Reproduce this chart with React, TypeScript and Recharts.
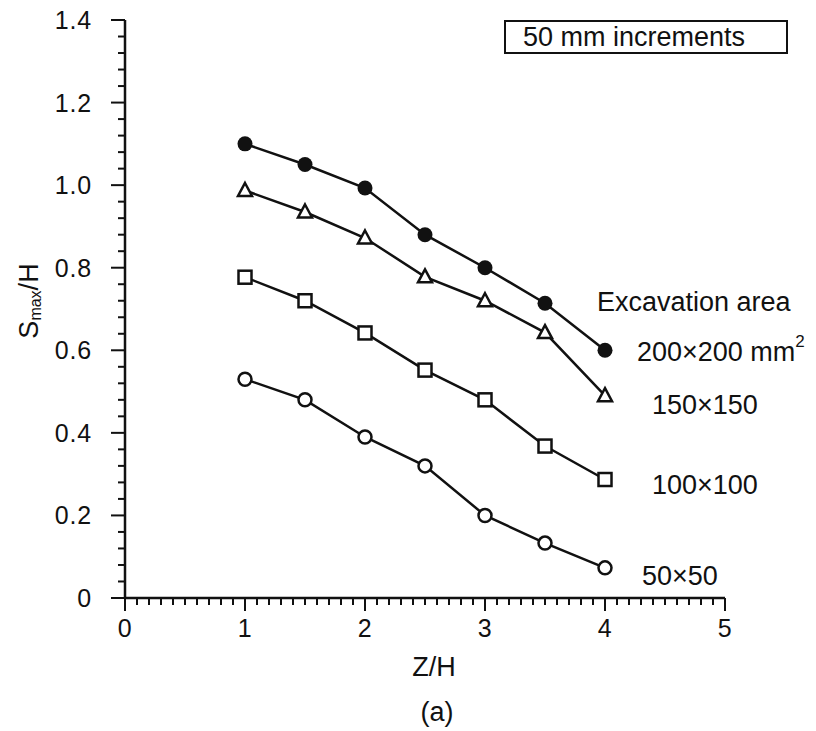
import { LineChart, Line, XAxis, YAxis } from 'recharts'

const zOverH = [1, 1.5, 2, 2.5, 3, 3.5, 4]
const area200 = [1.1, 1.05, 0.993, 0.88, 0.8, 0.714, 0.6]
const area150 = [0.987, 0.935, 0.872, 0.778, 0.72, 0.643, 0.49]
const area100 = [0.777, 0.72, 0.642, 0.552, 0.48, 0.368, 0.287]
const area50 = [0.53, 0.48, 0.39, 0.32, 0.2, 0.133, 0.073]

// every 0.1 on x, every 0.04 on y; labels only at the major ones
const xTicks = Array.from({length: 51}, (_, i) => i / 10)
const yTicks = Array.from({length: 36}, (_, i) => i * 0.04)
const xMajorStep = 1
const yMajorStep = 0.2

const data = zOverH.map((z, i) => ({
  z,
  a200: area200[i],
  a150: area150[i],
  a100: area100[i],
  a50: area50[i],
}))

const font = '"Liberation Sans", Arial, sans-serif'
const ink = '#111'

const isMajor = (v: number, step: number) => Math.abs(v / step - Math.round(v / step)) < 1e-6

function XTick({x, y, payload}: any) {
  const major = isMajor(payload.value, xMajorStep)
  return (
    <g>
      <line x1={x} y1={y} x2={x} y2={y + (major ? 13 : 7)} stroke={ink} strokeWidth={2} />
      {major && (
        <text x={x} y={y + 30} textAnchor="middle" dominantBaseline="central" fontSize={25}
          fontFamily={font} fill={ink} letterSpacing={0.8}>
          {Math.round(payload.value)}
        </text>
      )}
    </g>
  )
}

function YTick({x, y, payload}: any) {
  const v = payload.value
  const major = isMajor(v, yMajorStep)
  return (
    <g>
      <line x1={x} y1={y} x2={x - (major ? 14 : 7)} y2={y} stroke={ink} strokeWidth={2} />
      {major && (
        <text x={x - 33} y={y} textAnchor="end" dominantBaseline="central" fontSize={25}
          fontFamily={font} fill={ink} letterSpacing={0.8}>
          {v < 1e-9 ? '0' : v.toFixed(1)}
        </text>
      )}
    </g>
  )
}

const FilledCircle = (p: any) => <circle key={p.index} cx={p.cx} cy={p.cy} r={7.5} fill={ink} />
const OpenCircle = (p: any) => <circle key={p.index} cx={p.cx} cy={p.cy} r={6.5} fill="#fff" stroke={ink} strokeWidth={2.5} />
const Square = (p: any) => <rect key={p.index} x={p.cx - 6.5} y={p.cy - 6.5} width={13} height={13} fill="#fff" stroke={ink} strokeWidth={2.5} />
const Triangle = (p: any) => (
  <path key={p.index} d={`M${p.cx},${p.cy - 7.5} L${p.cx + 7},${p.cy + 5.5} L${p.cx - 7},${p.cy + 5.5} Z`}
    fill="#fff" stroke={ink} strokeWidth={2.5} strokeLinejoin="miter" />
)

export default function App() {
  return (
    <div style={{position: 'relative', width: 816, height: 731, margin: '-8px 0 0 -8px', fontFamily: font}}>
      <LineChart width={816} height={731} data={data} margin={{top: 20, right: 91, bottom: 93, left: 65}}>
        <XAxis dataKey="z" type="number" domain={[0, 5]} ticks={xTicks} interval={0} height={40}
          tickSize={0} tickMargin={0} tick={XTick} tickLine={false} axisLine={{stroke: ink, strokeWidth: 2.5}} />
        <YAxis type="number" domain={[0, 1.4]} ticks={yTicks} interval={0} width={60}
          tickSize={0} tickMargin={0} tick={YTick} tickLine={false} axisLine={{stroke: ink, strokeWidth: 2.5}} />
        <Line dataKey="a50" stroke={ink} strokeWidth={2.5} dot={OpenCircle} isAnimationActive={false} />
        <Line dataKey="a100" stroke={ink} strokeWidth={2.5} dot={Square} isAnimationActive={false} />
        <Line dataKey="a150" stroke={ink} strokeWidth={2.5} dot={Triangle} isAnimationActive={false} />
        <Line dataKey="a200" stroke={ink} strokeWidth={2.5} dot={FilledCircle} isAnimationActive={false} />
      </LineChart>
      <svg width={816} height={731} style={{position: 'absolute', left: 0, top: 0, pointerEvents: 'none'}}
        fontFamily={font} fill={ink}>
        <rect x={505} y={21} width={282} height={32} fill="#fff" stroke={ink} strokeWidth={2} />
        <text x={523} y={37} fontSize={27} dominantBaseline="central">50 mm increments</text>
        <text x={597} y={302} fontSize={27} dominantBaseline="central">Excavation area</text>
        <text x={637} y={352} fontSize={27} dominantBaseline="central">
          200×200 mm<tspan fontSize={17} dy={-11}>2</tspan>
        </text>
        <text x={652} y={405} fontSize={27} dominantBaseline="central">150×150</text>
        <text x={652} y={485} fontSize={27} dominantBaseline="central">100×100</text>
        <text x={642} y={576} fontSize={27} dominantBaseline="central">50×50</text>
        <text x={434} y={667} fontSize={27} textAnchor="middle" dominantBaseline="central">Z/H</text>
        <text x={437} y={712} fontSize={27} textAnchor="middle" dominantBaseline="central">(a)</text>
        <text transform="translate(29,301) rotate(-90)" fontSize={27} textAnchor="middle" dominantBaseline="central">
          S<tspan fontSize={16} dy={6}>max</tspan><tspan dy={-6}>/H</tspan>
        </text>
      </svg>
    </div>
  )
}
